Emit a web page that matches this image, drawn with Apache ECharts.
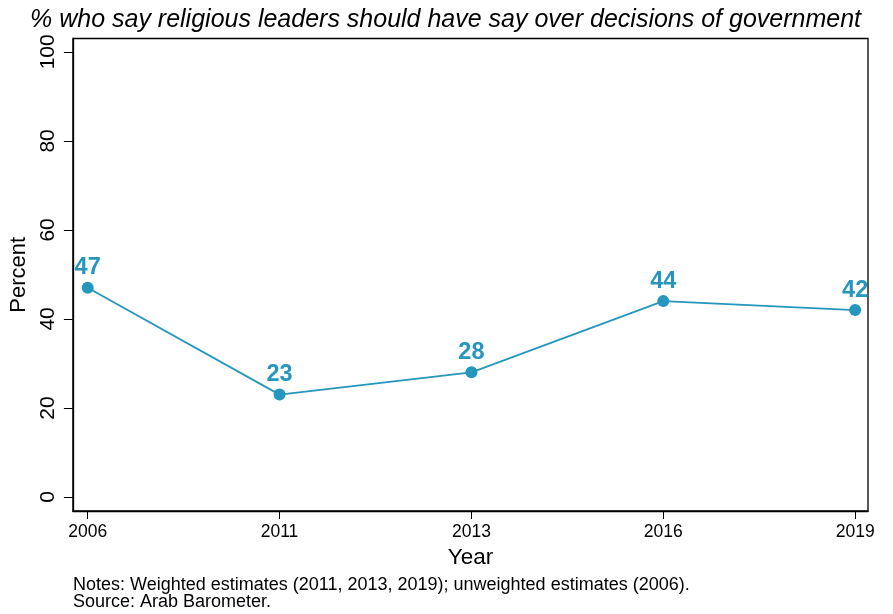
<!DOCTYPE html>
<html><head><meta charset="utf-8">
<script src="https://cdn.jsdelivr.net/npm/echarts@6/dist/echarts.min.js"></script>
<style>html,body{margin:0;padding:0;background:#fff}#c{width:893px;height:614px}</style>
</head><body><div id="c"></div>
<script>
const categories = ['2006', '2011', '2013', '2016', '2019'];
const values = [47, 23, 28, 44, 42];
const yTicks = [0, 20, 40, 60, 80, 100];
const titleText = '% who say religious leaders should have say over decisions of government';
const notesText = 'Notes: Weighted estimates (2011, 2013, 2019); unweighted estimates (2006).\nSource: Arab Barometer.';

const color = '#2596be';
const font = 'Liberation Sans, Arial, Helvetica, sans-serif';
const chart = echarts.init(document.getElementById('c'));
chart.setOption({
  animation: false,
  backgroundColor: '#fff',
  title: [
    { text: titleText, left: 25, top: 3, textStyle: { fontFamily: font, fontStyle: 'italic', fontWeight: 'normal', fontSize: 25, color: '#000' } },
    { text: notesText, left: 68, top: 572, textStyle: { fontFamily: font, fontWeight: 'normal', fontSize: 18, color: '#000', lineHeight: 17 } }
  ],
  grid: { left: 68.5, right: 25, top: 38.5, bottom: 103, show: true, borderColor: '#000', borderWidth: 1.3, backgroundColor: '#fff' },
  xAxis: {
    type: 'value', min: -0.077, max: 4.067,
    name: 'Year', nameLocation: 'middle', nameGap: 33,
    nameTextStyle: { fontFamily: font, fontSize: 22.5, color: '#000' },
    axisLine: { show: true, onZero: false, lineStyle: { color: '#000', width: 1.3 } },
    axisTick: { show: true, length: 8, lineStyle: { color: '#000', width: 1 }, customValues: categories.map((c, i) => i) },
    axisLabel: { customValues: categories.map((c, i) => i), formatter: v => categories[Math.round(v)], fontFamily: font, fontSize: 17.5, color: '#000', margin: 12 },
    splitLine: { show: false }
  },
  yAxis: {
    type: 'value', min: -3.15, max: 103,
    name: 'Percent', nameLocation: 'middle', nameGap: 34, nameRotate: 90,
    nameTextStyle: { fontFamily: font, fontSize: 22, color: '#000' },
    axisLine: { show: true, onZero: false, lineStyle: { color: '#000', width: 1.3 } },
    axisTick: { show: true, length: 9, lineStyle: { color: '#000', width: 1 }, customValues: yTicks },
    axisLabel: { customValues: yTicks, rotate: 90, fontFamily: font, fontSize: 21, color: '#000', margin: 14 },
    splitLine: { show: false }
  },
  series: [{
    type: 'line',
    data: values.map((v, i) => [i, v]),
    symbol: 'circle', symbolSize: 12,
    lineStyle: { color: color, width: 1.8 },
    itemStyle: { color: color },
    label: { show: true, position: 'top', distance: 2, fontFamily: font, fontWeight: 'bold', fontSize: 23.5, color: color, formatter: p => p.value[1] }
  }]
});
</script></body></html>
